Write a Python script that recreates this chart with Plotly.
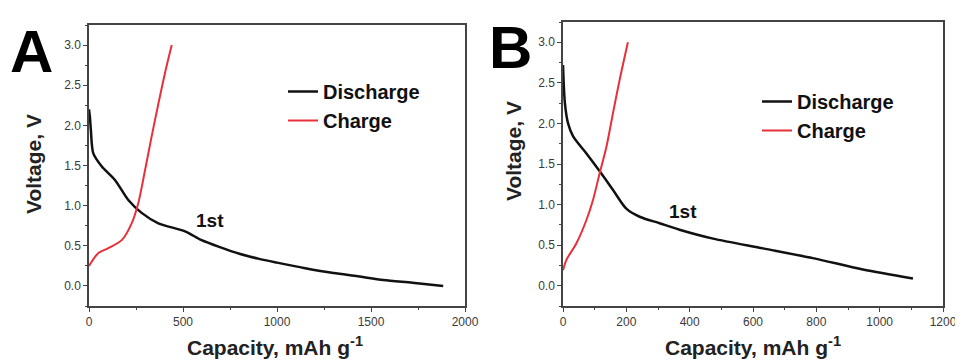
import plotly.graph_objects as go

# Panel A data (capacity mAh/g, voltage V)
a_dis_cap = [0, 5, 10, 23, 67, 138, 209, 280, 369, 511, 599, 700, 800, 900, 1000, 1150, 1300, 1430, 1565, 1720, 1884]
a_dis_v   = [2.2, 2.1, 1.94, 1.65, 1.49, 1.32, 1.07, 0.91, 0.78, 0.68, 0.57, 0.48, 0.40, 0.34, 0.29, 0.22, 0.16, 0.12, 0.075, 0.04, 0.0]
a_chg_cap = [0, 50, 103, 174, 227, 262, 298, 333, 369, 404, 440]
a_chg_v   = [0.25, 0.41, 0.47, 0.57, 0.78, 1.03, 1.44, 1.86, 2.27, 2.65, 3.0]

# Panel B data
b_dis_cap = [0, 6, 16, 32, 74, 116, 158, 200, 242, 305, 368, 474, 632, 789, 947, 1105]
b_dis_v   = [2.72, 2.25, 2.0, 1.84, 1.63, 1.41, 1.18, 0.95, 0.85, 0.77, 0.69, 0.58, 0.46, 0.34, 0.20, 0.09]
b_chg_cap = [0, 11, 42, 74, 95, 116, 137, 158, 179, 205]
b_chg_v   = [0.19, 0.32, 0.52, 0.81, 1.06, 1.39, 1.71, 2.13, 2.54, 3.0]

panel_labels = ["A", "B"]
series_names = ["Discharge", "Charge"]
cycle_label = "1st"
x_title = "<b>Capacity, mAh g<sup>-1</sup></b>"
y_title = "<b>Voltage, V</b>"

BLACK = "#111111"
RED = "#e8303a"
FONT = "Liberation Sans, Arial, sans-serif"

# page body has an 8px margin; figure sized to fit the window
OFF = 8
W, H = 963 - OFF, 360 - OFF


def px(x):
    return (x - OFF) / W


def py(y):
    return (H - (y - OFF)) / H


fig = go.Figure()
fig.add_trace(go.Scatter(x=a_dis_cap, y=a_dis_v, mode="lines", name=series_names[0],
                         line=dict(color=BLACK, width=2.5, shape="spline", smoothing=0.8),
                         xaxis="x", yaxis="y", legend="legend"))
fig.add_trace(go.Scatter(x=a_chg_cap, y=a_chg_v, mode="lines", name=series_names[1],
                         line=dict(color=RED, width=2, shape="spline", smoothing=0.8),
                         xaxis="x", yaxis="y", legend="legend"))
fig.add_trace(go.Scatter(x=b_dis_cap, y=b_dis_v, mode="lines", name=series_names[0],
                         line=dict(color=BLACK, width=2.5, shape="spline", smoothing=0.8),
                         xaxis="x2", yaxis="y2", legend="legend2"))
fig.add_trace(go.Scatter(x=b_chg_cap, y=b_chg_v, mode="lines", name=series_names[1],
                         line=dict(color=RED, width=2, shape="spline", smoothing=0.8),
                         xaxis="x2", yaxis="y2", legend="legend2"))

axis_common = dict(showline=True, linecolor="#444444", linewidth=1.5, mirror=True,
                   ticks="outside", ticklen=4, tickwidth=1.2, tickcolor="#444444",
                   showgrid=False, zeroline=False, automargin=False,
                   tickfont=dict(family=FONT, size=12, color="#3a3a3a"))
minor_common = dict(ticks="outside", ticklen=2, tickcolor="#444444")

fig.update_layout(
    width=W, height=H,
    margin=dict(l=0, r=0, t=0, b=0, autoexpand=False),
    paper_bgcolor="white", plot_bgcolor="white",
    font=dict(family=FONT, color=BLACK),
    xaxis=dict(domain=[px(89), px(465)], range=[0, 2000], dtick=500, anchor="y",
               minor=dict(dtick=250, **minor_common), **axis_common),
    yaxis=dict(domain=[py(306), py(25)], range=[-0.25, 3.25], dtick=0.5, tickformat=".1f",
               anchor="x", minor=dict(dtick=0.25, **minor_common), **axis_common),
    xaxis2=dict(domain=[px(563), px(943)], range=[0, 1200], dtick=200, anchor="y2",
                minor=dict(dtick=100, **minor_common), **axis_common),
    yaxis2=dict(domain=[py(306), py(22)], range=[-0.25, 3.25], dtick=0.5, tickformat=".1f",
                anchor="x2", minor=dict(dtick=0.25, **minor_common), **axis_common),
    legend=dict(x=px(283), y=py(72), xanchor="left", yanchor="top",
                bgcolor="rgba(0,0,0,0)", tracegroupgap=0,
                font=dict(family=FONT, size=20, color=BLACK, weight="bold")),
    legend2=dict(x=px(757), y=py(82), xanchor="left", yanchor="top",
                 bgcolor="rgba(0,0,0,0)", tracegroupgap=0,
                 font=dict(family=FONT, size=20, color=BLACK, weight="bold")),
    showlegend=True,
)

ann = []
c = dict(xref="paper", yref="paper", showarrow=False, xanchor="center", yanchor="middle")
# Panel letters
ann.append(dict(text="<b>A</b>", x=px(31), y=py(51), font=dict(family=FONT, size=60, color="#000000"), **c))
ann.append(dict(text="<b>B</b>", x=px(510), y=py(47), font=dict(family=FONT, size=60, color="#000000"), **c))
# Axis titles
ann.append(dict(text=x_title, x=px(275), y=py(346), font=dict(family=FONT, size=21, color="#222222"), **c))
ann.append(dict(text=x_title, x=px(753), y=py(346), font=dict(family=FONT, size=21, color="#222222"), **c))
ann.append(dict(text=y_title, x=px(33), y=py(164), textangle=-90,
                font=dict(family=FONT, size=21, color="#222222"), **c))
ann.append(dict(text=y_title, x=px(513), y=py(151), textangle=-90,
                font=dict(family=FONT, size=21, color="#222222"), **c))
# Cycle labels
ann.append(dict(text="<b>" + cycle_label + "</b>", x=644, y=0.81, xref="x", yref="y",
                showarrow=False, xanchor="center", yanchor="middle",
                font=dict(family=FONT, size=19, color=BLACK)))
ann.append(dict(text="<b>" + cycle_label + "</b>", x=379, y=0.91, xref="x2", yref="y2",
                showarrow=False, xanchor="center", yanchor="middle",
                font=dict(family=FONT, size=19, color=BLACK)))
fig.update_layout(annotations=ann)

fig.write_html("out.html")
